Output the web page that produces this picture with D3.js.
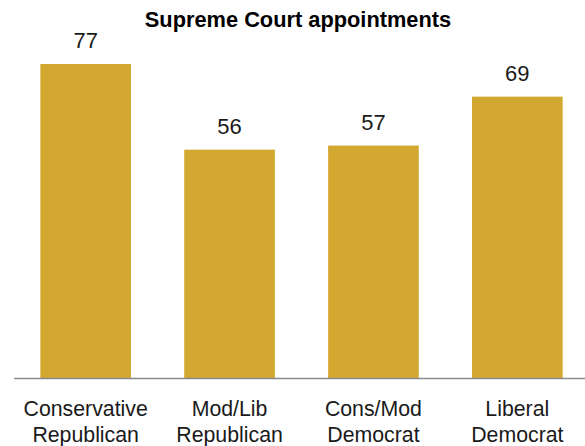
<!DOCTYPE html>
<html><head><meta charset="utf-8">
<script src="https://cdn.jsdelivr.net/npm/d3@7"></script>
<style>body{margin:0;background:#fff}svg{display:block}</style>
</head><body>
<div id="chart"></div>
<script>
const title = "Supreme Court appointments";
const categories = [["Conservative","Republican"],["Mod/Lib","Republican"],["Cons/Mod","Democrat"],["Liberal","Democrat"]];
const values = [77, 56, 57, 69];

const W = 585, H = 446;
const svg = d3.select("#chart").append("svg").attr("width", W).attr("height", H);

const x = d3.scaleBand().domain(d3.range(values.length)).range([13, 590]).paddingInner(0.37).paddingOuter(0.19);
const y = d3.scaleLinear().domain([0, 77]).range([378, 64]);

svg.append("g").selectAll("rect").data(values).join("rect")
  .attr("x", (d,i) => x(i)).attr("width", x.bandwidth())
  .attr("y", d => y(d)).attr("height", d => y(0) - y(d))
  .attr("fill", "#D3A831");

svg.append("line").attr("x1", 14).attr("x2", 585).attr("y1", y(0)+0.5).attr("y2", y(0)+0.5)
  .attr("stroke", "#8a8a8a").attr("stroke-width", 1.5);

svg.append("g").selectAll("text").data(values).join("text")
  .attr("x", (d,i) => x(i) + x.bandwidth()/2).attr("y", d => y(d) - 16)
  .attr("text-anchor", "middle").attr("font-family", "Liberation Sans, Arial, sans-serif")
  .attr("font-size", 22).attr("fill", "#1a1a1a").text(d => d);

const lab = svg.append("g").selectAll("text").data(categories).join("text")
  .attr("text-anchor", "middle").attr("font-family", "Liberation Sans, Arial, sans-serif")
  .attr("font-size", 21.3).attr("fill", "#1a1a1a");
lab.selectAll("tspan").data((d,i) => d.map(s => ({s, i}))).join("tspan")
  .attr("x", d => x(d.i) + x.bandwidth()/2)
  .attr("y", (d,j) => 415.5 + j*26.5)
  .text(d => d.s);

svg.append("text").attr("x", 298).attr("y", 27).attr("text-anchor", "middle")
  .attr("font-family", "Liberation Sans, Arial, sans-serif")
  .attr("font-weight", "bold").attr("font-size", 21.8).attr("fill", "#000").text(title);
</script>
</body></html>
